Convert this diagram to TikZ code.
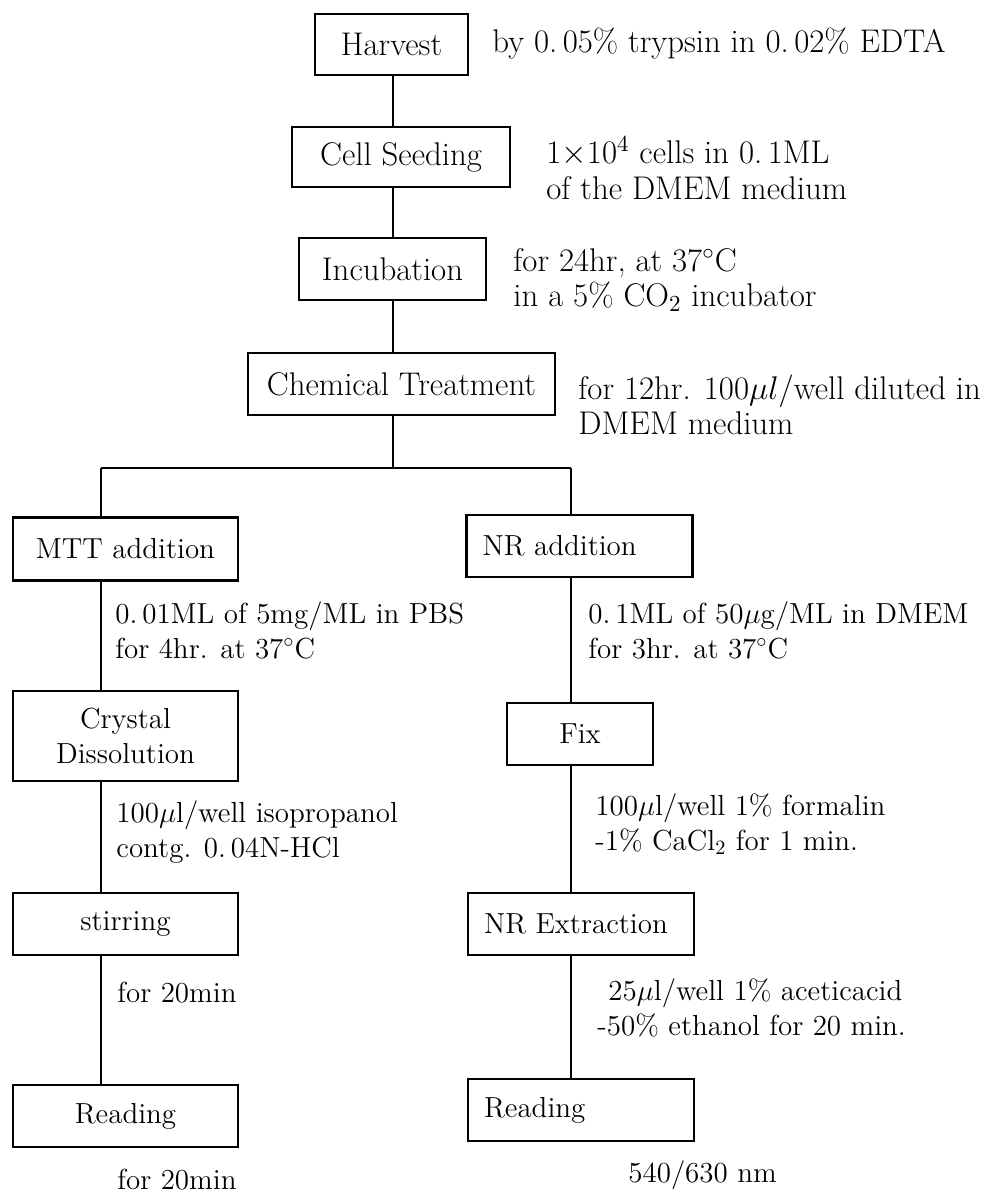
\RequirePackage{fix-cm}
\documentclass[tikz,border=0pt]{standalone}
\usepackage{fontspec}
\begin{document}
\begin{tikzpicture}[x=0.5pt,y=-0.5pt,
  every node/.style={font=\fontsize{14.5}{17.5}\selectfont},
  big/.style={font=\fontsize{16.4}{17.8}\selectfont},
  box/.style={draw, line width=1.1pt, inner sep=0pt, minimum height=31pt, align=center},
  rbox/.style={box, minimum width=113pt, inner xsep=8pt},
  conn/.style={line width=0.8pt},
  note/.style={anchor=west, align=left, inner sep=0pt}]
\useasboundingbox (0,0) rectangle (993,1193);
\newcommand{\degC}{$^{\circ}$C}

% top chain
\node[box, big, minimum width=76.5pt, minimum height=30.5pt] (harvest) at (391.5,44.5) {Harvest};
\node[box, big, minimum width=109pt, minimum height=30pt] (seed) at (401,157) {Cell Seeding};
\node[box, big, minimum width=93.5pt] (incub) at (392.5,269) {Incubation};
\node[box, big, minimum width=153.5pt] (chem) at (401.5,384) {Chemical Treatment};

\node[note, big] (a1) at (492,44) {by 0.\,05\% trypsin in 0.\,02\% EDTA};
\node[note, big] (a2) at (546,168) {1$\times$10$^4$ cells in 0.\,1ML\\of the DMEM medium};
\node[note, big] (a3) at (513,280) {for 24hr, at 37\degC\\in a 5\% CO$_2$ incubator};
\node[note, big] (a4) at (578,405) {for 12hr. 100$\mu l$/well diluted in\\DMEM medium};

\coordinate (jn) at (393,468);
\coordinate (jl) at (101,468);
\coordinate (jr) at (571,468);

% left column
\node[box, minimum width=112.5pt, minimum height=31.5pt] (mtt) at (125.5,549) {MTT addition};
\node[box, minimum width=112.5pt, minimum height=45pt] (cryst) at (125.5,736) {Crystal\\Dissolution};
\node[box, minimum width=112.5pt, minimum height=31pt] (stir) at (125.5,924) {stirring};
\node[box, minimum width=112.5pt, minimum height=31pt] (readl) at (125.5,1116) {Reading};

% right column
\node[rbox] (nradd) at (579.5,546) {\makebox[97pt][l]{NR addition}};
\node[box, minimum width=73pt, minimum height=31pt] (fix) at (580,734) {Fix};
\node[rbox] (nrext) at (581,924) {\makebox[97pt][l]{NR Extraction}};
\node[rbox] (readr) at (581,1110) {\makebox[97pt][l]{Reading}};

% notes lower
\node[note] (b1) at (115,630) {0.\,01ML of 5mg/ML in PBS\\for 4hr. at 37\degC};
\node[note] (b2) at (588,630) {0.\,1ML of 50$\mu$g/ML in DMEM\\for 3hr. at 37\degC};
\node[note] (b3) at (116,832) {100$\mu$l/well isopropanol\\contg. 0.\,04N-HCl};
\node[note] (b4) at (595,824) {100$\mu$l/well 1\% formalin\\-1\% CaCl$_2$ for 1 min.};
\node[note] (b5) at (117,993) {for 20min};
\node[note] (b6) at (597,1008) {\hspace*{5.5pt}25$\mu$l/well 1\% aceticacid\\-50\% ethanol for 20 min.};
\node[note] (b7) at (117,1180) {for 20min};
\node[note] (b8) at (628,1175) {540/630 nm};

% connectors
\draw[conn] (harvest.south -| jn) -- (seed.north -| jn);
\draw[conn] (seed.south -| jn) -- (incub.north -| jn);
\draw[conn] (incub.south -| jn) -- (chem.north -| jn);
\draw[conn] (chem.south -| jn) -- (jn);
\draw[conn] (jl) -- (jr);
\draw[conn] (jl) -- (jl |- mtt.north);
\draw[conn] (jr) -- (jr |- nradd.north);
\draw[conn] (jl |- mtt.south) -- (jl |- cryst.north);
\draw[conn] (jl |- cryst.south) -- (jl |- stir.north);
\draw[conn] (jl |- stir.south) -- (jl |- readl.north);
\draw[conn] (jr |- nradd.south) -- (jr |- fix.north);
\draw[conn] (jr |- fix.south) -- (jr |- nrext.north);
\draw[conn] (jr |- nrext.south) -- (jr |- readr.north);
\end{tikzpicture}
\end{document}
